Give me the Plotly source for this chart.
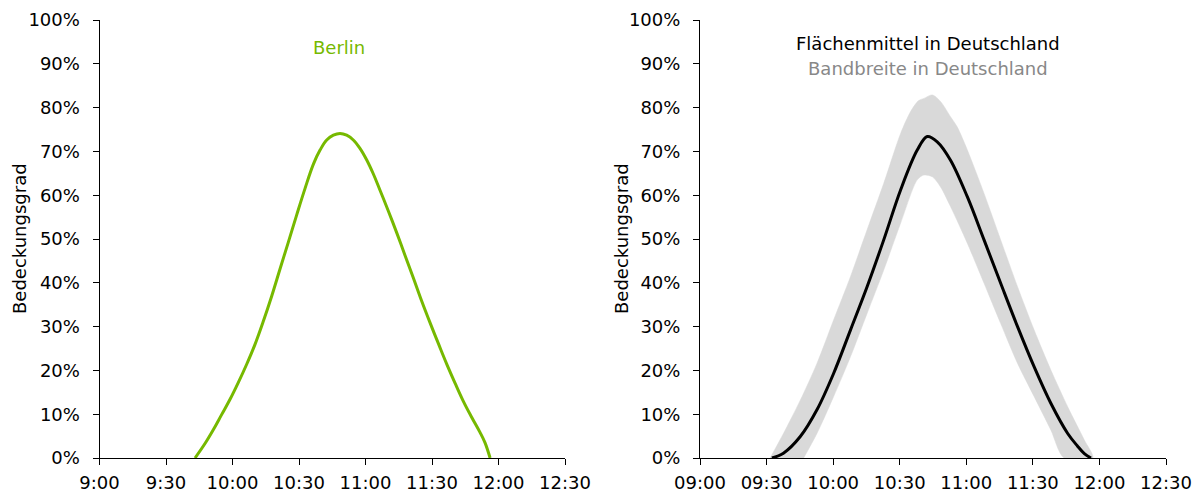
import plotly.graph_objects as go

# x values: minutes after 09:00
x_tickvals = [0, 30, 60, 90, 120, 150, 180, 210]
x_ticktext_left = ["9:00", "9:30", "10:00", "10:30", "11:00", "11:30", "12:00", "12:30"]
x_ticktext_right = ["09:00", "09:30", "10:00", "10:30", "11:00", "11:30", "12:00", "12:30"]
y_tickvals = [0, 10, 20, 30, 40, 50, 60, 70, 80, 90, 100]
y_ticktext = ["0%", "10%", "20%", "30%", "40%", "50%", "60%", "70%", "80%", "90%", "100%"]

# Left panel: Berlin
berlin_min = [43.1, 47.6, 51.4, 55.1, 58.9, 62.6, 66.4, 70.2, 73.9, 77.7, 81.4, 85.2,
              88.9, 92.7, 96.5, 99.5, 102.5, 105.5, 108.5, 111.5, 114.5, 117.5, 120.5,
              123.5, 126.5, 130.3, 134.1, 137.8, 141.6, 145.3, 149.1, 152.9, 156.6,
              160.4, 164.1, 167.9, 171.6, 173.9, 176.2]
berlin_pct = [0.0, 3.3, 6.5, 9.9, 13.4, 17.2, 21.4, 26.0, 31.2, 37.0, 43.1, 49.3,
              55.4, 61.5, 67.1, 70.3, 72.6, 73.7, 74.1, 73.7, 72.6, 70.7, 68.1,
              64.9, 61.2, 56.4, 51.4, 46.3, 41.1, 35.9, 30.9, 26.1, 21.5,
              17.1, 13.0, 9.3, 5.9, 3.5, 0.0]

# Right panel: area mean
mean_min = [32.4, 37.6, 45.2, 52.7, 60.2, 67.8, 75.3, 82.8, 90.4, 97.9, 102.4, 106.9,
            112.9, 120.5, 128.0, 135.5, 143.1, 150.6, 158.1, 165.7, 170.0, 173.2, 176.2]
mean_pct = [0.0, 1.1, 4.9, 11.0, 19.3, 29.2, 39.1, 49.8, 61.2, 70.3, 73.4, 72.2,
            68.0, 59.6, 49.8, 39.9, 30.0, 20.8, 12.5, 5.6, 2.8, 1.0, 0.0]

# Right panel: range (upper / lower envelope)
upper_min = [31.6, 37.6, 45.2, 52.7, 60.2, 67.8, 75.3, 82.8, 90.4, 94.9, 98.5, 100.9,
             104.7, 108.4, 112.9, 115.9, 120.5, 128.0, 135.5, 143.1, 150.6, 158.1,
             165.7, 173.2, 177.0]
upper_pct = [0.0, 5.6, 13.2, 21.6, 31.5, 41.4, 52.1, 62.7, 74.1, 79.1, 81.6, 82.1,
             82.9, 81.4, 77.9, 75.6, 70.3, 60.4, 49.8, 39.1, 29.2, 20.1,
             11.7, 4.1, 0.0]
lower_min = [46.7, 52.7, 60.2, 67.8, 75.3, 82.8, 90.4, 97.9, 100.9, 104.7, 108.4,
             112.9, 120.5, 128.0, 135.5, 143.1, 150.6, 158.1, 164.1]
lower_pct = [0.0, 5.6, 14.0, 23.1, 33.0, 42.9, 53.6, 63.5, 64.6, 64.2, 61.9,
             57.4, 49.0, 39.9, 30.7, 21.6, 14.0, 6.4, 0.0]

GREEN = "#76b900"
BAND = "#d9d9d9"
FONT = "DejaVu Sans"
FS = 18
W, H = 1198, 493

fig = go.Figure()

fig.add_trace(go.Scatter(x=berlin_min, y=berlin_pct, mode="lines",
                         line=dict(color=GREEN, width=3, shape="spline", smoothing=1.1),
                         xaxis="x", yaxis="y", showlegend=False, hoverinfo="skip"))

band_x = upper_min + lower_min[::-1]
band_y = upper_pct + lower_pct[::-1]
fig.add_trace(go.Scatter(x=band_x, y=band_y, mode="lines", fill="toself",
                         fillcolor=BAND, line=dict(color=BAND, width=0.5, shape="spline", smoothing=0.8),
                         xaxis="x2", yaxis="y2", showlegend=False, hoverinfo="skip"))
fig.add_trace(go.Scatter(x=mean_min, y=mean_pct, mode="lines",
                         line=dict(color="black", width=3, shape="spline", smoothing=1.0),
                         xaxis="x2", yaxis="y2", showlegend=False, hoverinfo="skip"))

common_x = dict(range=[0, 210], tickvals=x_tickvals,
                showline=True, linecolor="black", linewidth=1, ticks="outside",
                ticklen=6, tickcolor="black", showgrid=False, zeroline=False,
                automargin=False, ticklabelstandoff=2,
                tickfont=dict(family=FONT, size=FS, color="black"), fixedrange=True)
common_y = dict(range=[0, 100], tickvals=y_tickvals, ticktext=y_ticktext,
                showline=True, linecolor="black", linewidth=1, ticks="outside",
                ticklen=6, tickcolor="black", showgrid=False, zeroline=False,
                automargin=False,
                tickfont=dict(family=FONT, size=FS, color="black"), fixedrange=True,
                ticklabelstandoff=9)


def label(text, px, py, color, angle=0):
    return dict(text=text, x=px / W, y=1 - py / H, xref="paper", yref="paper",
                xanchor="center", yanchor="middle", textangle=angle, showarrow=False,
                font=dict(family=FONT, size=FS, color=color))


ybot, ytop = 35 / H, 473 / H
fig.update_layout(
    template="none",
    width=W, height=H,
    margin=dict(l=0, r=0, t=0, b=0, pad=0),
    paper_bgcolor="white", plot_bgcolor="white",
    xaxis=dict(domain=[99.5 / W, 565 / W], anchor="y", ticktext=x_ticktext_left, **common_x),
    yaxis=dict(domain=[ybot, ytop], anchor="x", **common_y),
    xaxis2=dict(domain=[700 / W, 1166 / W], anchor="y2", ticktext=x_ticktext_right, **common_x),
    yaxis2=dict(domain=[ybot, ytop], anchor="x2", **common_y),
    font=dict(family=FONT, size=FS, color="black"),
    annotations=[
        label("Berlin", 339, 47, GREEN),
        label("Flächenmittel in Deutschland", 928, 44, "black"),
        label("Bandbreite in Deutschland", 928, 68, "#888888"),
        label("Bedeckungsgrad", 20, 239, "black", -90),
        label("Bedeckungsgrad", 622, 239, "black", -90),
    ],
)

fig.write_html("out.html", config={"displayModeBar": False})
